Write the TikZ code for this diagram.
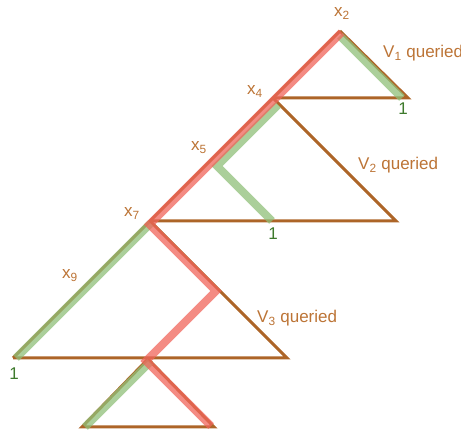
\documentclass[tikz,border=0pt]{standalone}
\usepackage{fontspec}
\setmainfont{Liberation Sans}
\usetikzlibrary{calc}
\definecolor{TreeBrown}{HTML}{AD6528}
\definecolor{LabelBrown}{HTML}{BC7436}
\definecolor{PathGreen}{HTML}{8FBF78}
\definecolor{PathRed}{HTML}{F0645A}
\definecolor{OneGreen}{HTML}{3E7A2C}

\begin{document}
\begin{tikzpicture}[x=1pt, y=-1pt,
        tree/.style={TreeBrown, line width=3pt},
        greenpath/.style={PathGreen, line width=8pt, opacity=0.75},
        redpath/.style={PathRed, line width=8pt, opacity=0.75},
        varlbl/.style={LabelBrown, anchor=base west, inner sep=0pt, font=\fontsize{17}{20}\selectfont},
        querylbl/.style={LabelBrown, anchor=base west, inner sep=0pt, font=\fontsize{17}{20}\selectfont},
        onelbl/.style={OneGreen, anchor=base, inner sep=0pt, font=\fontsize{17}{20}\selectfont}]
        \useasboundingbox (0,0) rectangle (461,430);

        % corners of the triangles
        \coordinate (x2) at (340,31);
        \coordinate (x4) at (273,98);
        \coordinate (x5) at (211,160);
        \coordinate (x7) at (150,221);
        \coordinate (r1) at (408,98);
        \coordinate (r2) at (396,221);
        \coordinate (r3) at (287,358);
        \coordinate (l3) at (13,358);
        \coordinate (t4) at (148,359);
        \coordinate (l4) at (82,427);
        \coordinate (r4) at (214,427);
        \coordinate (g2) at (272,221);
        \coordinate (v3) at (216,291);

        % tree
        \draw[tree] (l3) -- (x2);
        \draw[tree] (x2) -- (r1) -- (x4);
        \draw[tree] (x4) -- (r2) -- (x7);
        \draw[tree] (x7) -- (r3) -- (l3);
        \draw[tree] (t4) -- (r4) -- (l4) -- cycle;

        % queried paths
        \draw[greenpath] ($(x2)+(0,5)$) -- ($(r1)+(-6,0)$);
        \draw[greenpath] ($(x4)+(5,7)$) -- ($(x5)+(6,6)$) -- (g2);
        \draw[greenpath] ($(x7)+(0.5,2.5)$) -- ($(l3)+(3,0)$);
        \draw[greenpath] ($(t4)+(2,3)$) -- ($(l4)+(3,0)$);
        \draw[redpath] ($(x2)+(1.5,1.5)$) -- ($(x7)+(-0.5,3.5)$) -- (v3) -- ($(t4)+(-2,2)$) -- ($(r4)+(-3,-1)$);

        % labels
        \node[varlbl] (lx2) at (334,17) {x\textsubscript{2}};
        \node[varlbl] (lx4) at (247,95) {x\textsubscript{4}};
        \node[varlbl] (lx5) at (191,151) {x\textsubscript{5}};
        \node[varlbl] (lx7) at (124,217) {x\textsubscript{7}};
        \node[varlbl] (lx9) at (62,279) {x\textsubscript{9}};

        \node[querylbl] (q1) at (383,58) {V\textsubscript{1} queried};
        \node[querylbl] (q2) at (358,170) {V\textsubscript{2} queried};
        \node[querylbl] (q3) at (257,323) {V\textsubscript{3} queried};

        \node[onelbl] (o1) at (403,115) {1};
        \node[onelbl] (o2) at (273,240) {1};
        \node[onelbl] (o3) at (14,380) {1};
    \end{tikzpicture}
\end{document}
